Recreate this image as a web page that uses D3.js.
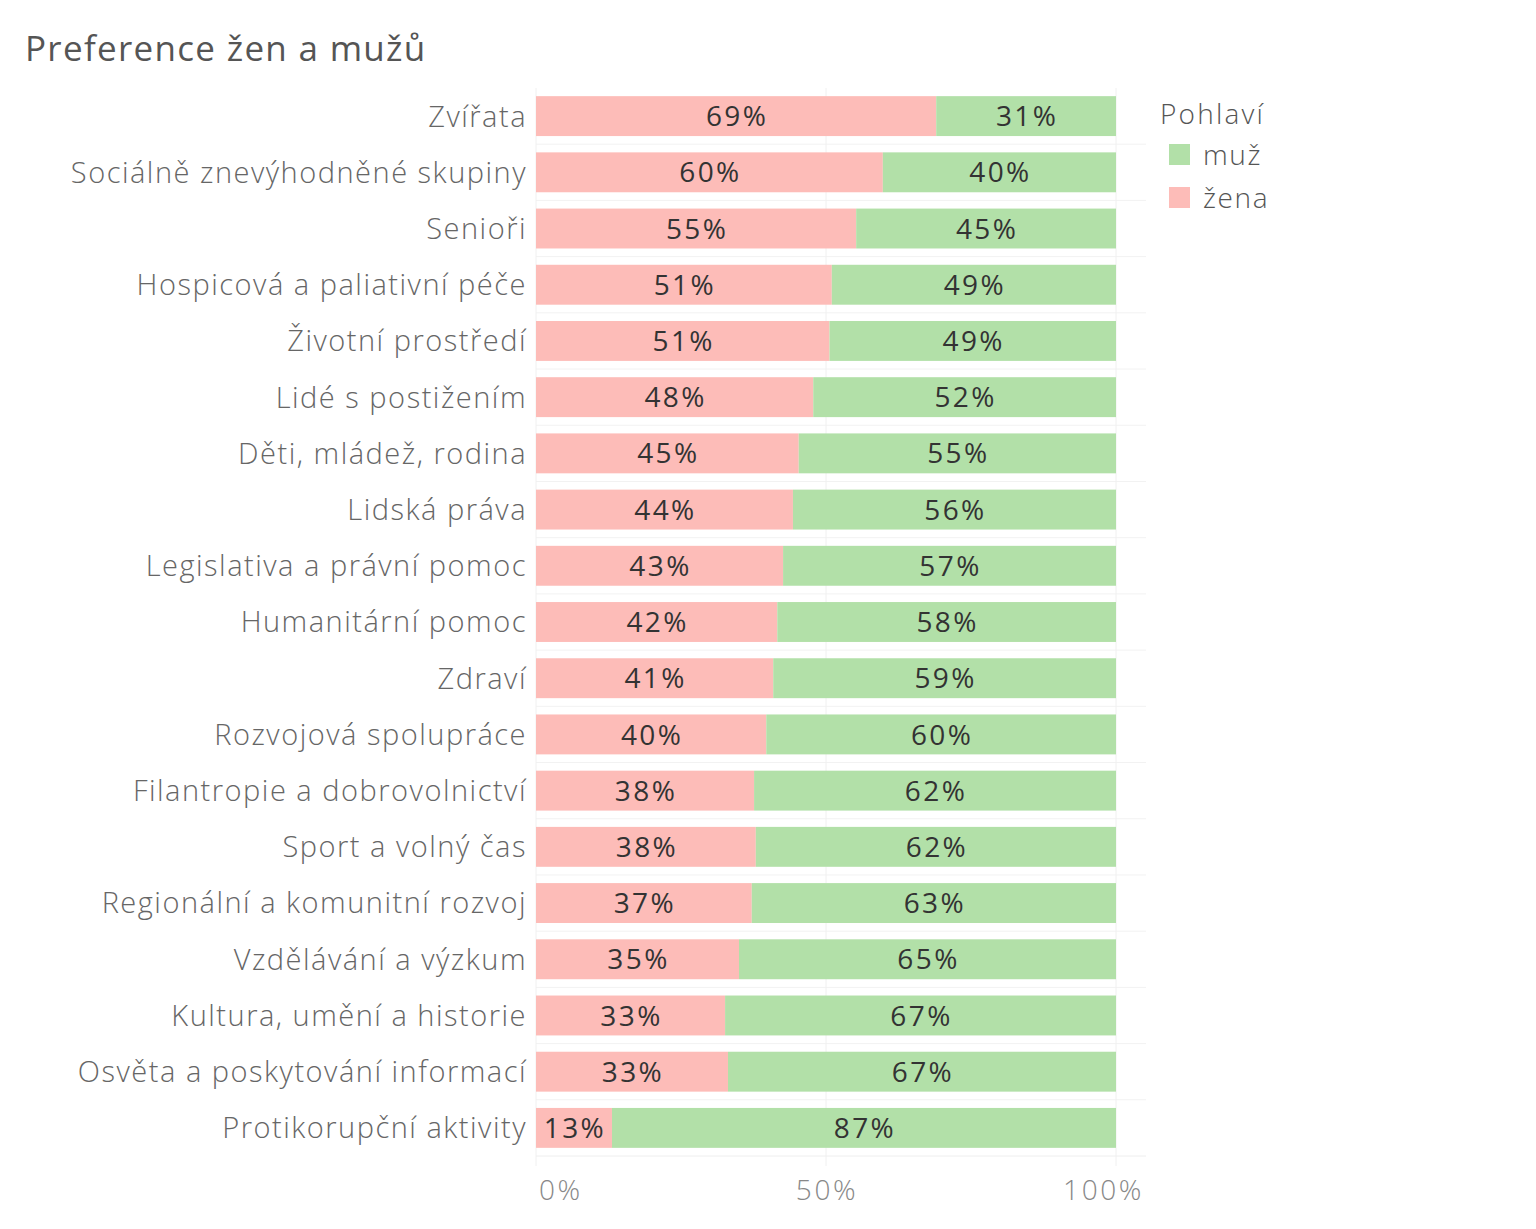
<!DOCTYPE html>
<html>
<head>
<meta charset="utf-8">
<script src="https://cdn.jsdelivr.net/npm/d3@7"></script>
<style>
  body { margin: 0; background: #fff; }
  svg text { font-family: "Open Sans", "Noto Sans", sans-serif; font-weight: 300; }
</style>
</head>
<body>
<div id="chart"></div>
<script>
// categories (top to bottom)
const categories = [
  "Zvířata", "Sociálně znevýhodněné skupiny", "Senioři", "Hospicová a paliativní péče",
  "Životní prostředí", "Lidé s postižením", "Děti, mládež, rodina", "Lidská práva",
  "Legislativa a právní pomoc", "Humanitární pomoc", "Zdraví", "Rozvojová spolupráce",
  "Filantropie a dobrovolnictví", "Sport a volný čas", "Regionální a komunitní rozvoj",
  "Vzdělávání a výzkum", "Kultura, umění a historie", "Osvěta a poskytování informací",
  "Protikorupční aktivity"
];
// share of women (%)
const zena = [69.0, 59.8, 55.2, 51.0, 50.6, 47.8, 45.3, 44.3, 42.6, 41.6, 40.9, 39.7, 37.6, 37.9, 37.2, 35.0, 32.6, 33.1, 13.1];
// share of men (%)
const muz = [31.0, 40.2, 44.8, 49.0, 49.4, 52.2, 54.7, 55.7, 57.4, 58.4, 59.1, 60.3, 62.4, 62.1, 62.8, 65.0, 67.4, 66.9, 86.9];
const xTicks = [0, 50, 100];
const legendItems = ["muž", "žena"];

const colors = {"žena": "#fdbcb8", "muž": "#b2e0a8"};

const width = 1536, height = 1229;
const margin = {top: 88, left: 536, right: 420, bottom: 73};

let svg = d3.select("#chart")
  .append("svg")
  .attr("width", width)
  .attr("height", height);

let x = d3.scaleLinear()
  .domain([0, 100])
  .range([margin.left, width - margin.right]);

let y = d3.scaleBand()
  .domain(categories)
  .range([margin.top, height - margin.bottom])
  .paddingInner(0.29)
  .paddingOuter(0.145);

// title
svg.append("text")
  .attr("x", 25)
  .attr("y", 61)
  .style("font-size", "35px")
  .style("font-weight", 400)
  .style("letter-spacing", "1.3px")
  .style("fill", "#555")
  .text("Preference žen a mužů");

// row separators
let step = y.step();
svg.append("g").selectAll("line")
  .data(categories.slice(1))
  .join("line")
  .attr("x1", margin.left)
  .attr("x2", x(100) + 30)
  .attr("y1", d => y(d) - (step - y.bandwidth()) / 2)
  .attr("y2", d => y(d) - (step - y.bandwidth()) / 2)
  .style("stroke", "#f2f2f2");

// vertical gridlines
svg.append("g").selectAll("line")
  .data(xTicks)
  .join("line")
  .attr("x1", d => x(d))
  .attr("x2", d => x(d))
  .attr("y1", margin.top)
  .attr("y2", height - margin.bottom + 10)
  .style("stroke", "#f0f0f0");

// bottom axis line
svg.append("line")
  .attr("x1", margin.left)
  .attr("x2", x(100) + 30)
  .attr("y1", height - margin.bottom)
  .attr("y2", height - margin.bottom)
  .style("stroke", "#eeeeee");

let rows = categories.map((c, i) => ({cat: c, zena: zena[i], muz: muz[i]}));

// women segment
svg.append("g").selectAll("rect")
  .data(rows)
  .join("rect")
  .attr("x", x(0))
  .attr("y", d => y(d.cat))
  .attr("width", d => x(d.zena) - x(0))
  .attr("height", y.bandwidth())
  .attr("fill", colors["žena"]);

// men segment
svg.append("g").selectAll("rect")
  .data(rows)
  .join("rect")
  .attr("x", d => x(d.zena))
  .attr("y", d => y(d.cat))
  .attr("width", d => x(100) - x(d.zena))
  .attr("height", y.bandwidth())
  .attr("fill", colors["muž"]);

// value labels
let labelStyle = sel => sel
  .attr("y", d => y(d.cat) + y.bandwidth() / 2)
  .attr("dy", "0.36em")
  .attr("text-anchor", "middle")
  .style("font-size", "28px")
  .style("font-weight", 400)
  .style("letter-spacing", "2.4px")
  .style("fill", "#333");

svg.append("g").selectAll("text")
  .data(rows)
  .join("text")
  .attr("x", d => (x(0) + x(d.zena)) / 2 + 1)
  .call(labelStyle)
  .text(d => Math.round(d.zena) + "%");

svg.append("g").selectAll("text")
  .data(rows)
  .join("text")
  .attr("x", d => (x(d.zena) + x(100)) / 2 + 1)
  .call(labelStyle)
  .text(d => Math.round(d.muz) + "%");

// category labels
svg.append("g").selectAll("text")
  .data(categories)
  .join("text")
  .attr("x", margin.left - 9)
  .attr("y", d => y(d) + y.bandwidth() / 2)
  .attr("dy", "0.36em")
  .attr("text-anchor", "end")
  .style("font-size", "29px")
  .style("letter-spacing", "1.5px")
  .style("fill", "#666")
  .text(d => d);

// x axis labels
svg.append("g").selectAll("text")
  .data(xTicks)
  .join("text")
  .attr("x", d => d == 0 ? x(d) + 3 : d == 100 ? x(d) + 28 : x(d) + 1)
  .attr("y", 1200)
  .attr("text-anchor", d => d == 0 ? "start" : d == 100 ? "end" : "middle")
  .style("font-size", "28px")
  .style("letter-spacing", "2.6px")
  .style("fill", "#888")
  .text(d => d + "%");

// legend
let legend = svg.append("g").attr("transform", "translate(1160, 0)");
legend.append("text")
  .attr("x", 0)
  .attr("y", 124)
  .style("font-size", "28px")
  .style("letter-spacing", "2.2px")
  .style("fill", "#555")
  .text("Pohlaví");
legend.selectAll("rect")
  .data(legendItems)
  .join("rect")
  .attr("x", 9)
  .attr("y", (d, i) => 144 + i * 43)
  .attr("width", 21)
  .attr("height", 21)
  .attr("fill", d => colors[d]);
legend.selectAll("text.item")
  .data(legendItems)
  .join("text")
  .attr("class", "item")
  .attr("x", 43)
  .attr("y", (d, i) => 165 + i * 43)
  .style("font-size", "28px")
  .style("letter-spacing", "1.6px")
  .style("fill", "#555")
  .text(d => d);
</script>
</body>
</html>
